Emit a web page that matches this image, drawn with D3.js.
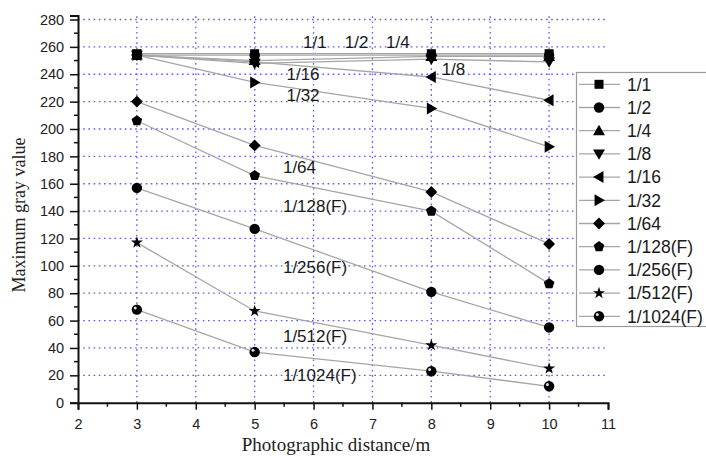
<!DOCTYPE html>
<html><head><meta charset="utf-8">
<script src="https://cdn.jsdelivr.net/npm/d3@7"></script>
<style>
html,body{margin:0;padding:0;background:#fff;}
svg{display:block;}
</style></head>
<body>
<svg id="chart" width="706" height="461"></svg>
<script>
// ---- data ----
const distances = [3, 5, 8, 10];
const seriesNames = ["1/1","1/2","1/4","1/8","1/16","1/32","1/64","1/128(F)","1/256(F)","1/512(F)","1/1024(F)"];
const s1_1    = [255, 255, 255, 255];
const s1_2    = [254, 254, 254, 254];
const s1_4    = [254, 250, 253, 253];
const s1_8    = [254, 248, 251, 249];
const s1_16   = [254, 249, 238, 221];
const s1_32   = [254, 234, 215, 187];
const s1_64   = [220, 188, 154, 116];
const s1_128F = [206, 166, 140, 87];
const s1_256F = [157, 127, 81, 55];
const s1_512F = [117, 67, 42, 25];
const s1_1024F= [68, 37, 23, 12];
const seriesValues = [s1_1, s1_2, s1_4, s1_8, s1_16, s1_32, s1_64, s1_128F, s1_256F, s1_512F, s1_1024F];
const markerTypes = ["square","circle","triUp","triDown","triLeft","triRight","diamond","pentagon","circle","star","sphere"];
const xTicks = [2,3,4,5,6,7,8,9,10,11];
const yTicks = [0,20,40,60,80,100,120,140,160,180,200,220,240,260,280];
const annotText = ["1/1","1/2","1/4","1/8","1/16","1/32","1/64","1/128(F)","1/256(F)","1/512(F)","1/1024(F)"];
const annotX = [5.82, 6.53, 7.23, 8.175, 5.54, 5.54, 5.48, 5.48, 5.48, 5.48, 5.48];
const annotY = [259.2, 259.2, 259.2, 239.4, 235.8, 220.2, 167.8, 139.6, 94.8, 44.6, 16.1];

// ---- chart ----
const svg = d3.select("#chart");
const x = d3.scaleLinear().domain([2, 11]).range([78, 608]);
const y = d3.scaleLinear().domain([0, 283]).range([402.7, 15.4]);

const gridColor = "#5a5aff";
const grid = svg.append("g");
grid.selectAll("line.h").data(yTicks.filter(v => v > 0)).join("line")
  .attr("x1", x(2)).attr("x2", x(11))
  .attr("y1", d => y(d)).attr("y2", d => y(d))
  .attr("stroke", gridColor).attr("stroke-width", 1.3).attr("stroke-dasharray", "1.6,3.6");
grid.selectAll("line.v").data(xTicks.filter(v => v > 2 && v < 11)).join("line")
  .attr("x1", d => x(d)).attr("x2", d => x(d))
  .attr("y1", y(0)).attr("y2", y(283))
  .attr("stroke", gridColor).attr("stroke-width", 1.3).attr("stroke-dasharray", "1.6,3.6");

// axes
const font = "'Liberation Sans', Arial, sans-serif";
const xAxis = d3.axisBottom(x).tickValues(xTicks).tickSize(7).tickFormat(d3.format("d"));
const gx = svg.append("g").attr("transform", `translate(0,${y(0)})`).call(xAxis);
gx.select(".domain").attr("stroke", "#111").attr("stroke-width", 2);
gx.selectAll(".tick line").attr("stroke", "#111").attr("stroke-width", 1.5);
gx.selectAll("text").attr("font-family", font).attr("font-size", 14.5).attr("fill", "#222").attr("dy", "1.1em");
const xMinor = d3.range(2.5, 11, 1);
svg.append("g").selectAll("line").data(xMinor).join("line")
  .attr("x1", d => x(d)).attr("x2", d => x(d)).attr("y1", y(0)).attr("y2", y(0) + 4)
  .attr("stroke", "#111").attr("stroke-width", 1.5);

const yAxis = d3.axisLeft(y).tickValues(yTicks).tickSize(8).tickFormat(d3.format("d"));
const gy = svg.append("g").attr("transform", `translate(${x(2)},0)`).call(yAxis);
gy.select(".domain").attr("stroke", "#111").attr("stroke-width", 2);
gy.selectAll(".tick line").attr("stroke", "#111").attr("stroke-width", 1.5);
gy.selectAll("text").attr("font-family", font).attr("font-size", 14.5).attr("fill", "#222").attr("dx", "-0.2em");
const yMinor = d3.range(10, 283, 20);
svg.append("g").selectAll("line").data(yMinor).join("line")
  .attr("x1", x(2) - 4).attr("x2", x(2)).attr("y1", d => y(d)).attr("y2", d => y(d))
  .attr("stroke", "#111").attr("stroke-width", 1.5);

// titles
svg.append("text").attr("x", 336).attr("y", 451).attr("text-anchor", "middle")
  .attr("font-family", "'Liberation Serif', 'Times New Roman', serif").attr("font-size", 19).attr("fill", "#222")
  .text("Photographic distance/m");
svg.append("text").attr("transform", "translate(25,215) rotate(-90)").attr("text-anchor", "middle")
  .attr("font-family", "'Liberation Serif', 'Times New Roman', serif").attr("font-size", 18).attr("fill", "#222")
  .text("Maximum gray value");

// marker drawing
function pentagonPath(r) {
  const pts = d3.range(5).map(i => {
    const a = -Math.PI / 2 + i * 2 * Math.PI / 5;
    return [r * Math.cos(a), r * Math.sin(a)];
  });
  return "M" + pts.map(p => p.join(",")).join("L") + "Z";
}
function drawMarker(g, type) {
  const tri = d3.symbol().type(d3.symbolTriangle).size(62)();
  switch (type) {
    case "square": g.append("rect").attr("x", -4.5).attr("y", -4.5).attr("width", 9).attr("height", 9).attr("fill", "#000"); break;
    case "circle": g.append("circle").attr("r", 5.2).attr("fill", "#000"); break;
    case "triUp": g.append("path").attr("d", tri).attr("transform", "translate(0,1)").attr("fill", "#000"); break;
    case "triDown": g.append("path").attr("d", tri).attr("transform", "translate(0,-1) rotate(180)").attr("fill", "#000"); break;
    case "triLeft": g.append("path").attr("d", tri).attr("transform", "translate(1,0) rotate(-90)").attr("fill", "#000"); break;
    case "triRight": g.append("path").attr("d", tri).attr("transform", "translate(-1,0) rotate(90)").attr("fill", "#000"); break;
    case "diamond": g.append("rect").attr("x", -4.2).attr("y", -4.2).attr("width", 8.4).attr("height", 8.4).attr("transform", "rotate(45)").attr("fill", "#000"); break;
    case "pentagon": g.append("path").attr("d", pentagonPath(5.6)).attr("fill", "#000"); break;
    case "star": g.append("path").attr("d", d3.symbol().type(d3.symbolStar).size(45)()).attr("fill", "#000"); break;
    case "sphere":
      g.append("circle").attr("r", 5.2).attr("fill", "#000");
      g.append("circle").attr("cx", -1.7).attr("cy", -1.7).attr("r", 1.5).attr("fill", "#ddd");
      break;
  }
}

// series
const line = d3.line().x((d, i) => x(distances[i])).y(d => y(d));
const plot = svg.append("g");
seriesValues.forEach((vals, si) => {
  plot.append("path").attr("d", line(vals)).attr("fill", "none").attr("stroke", "#a6a6a6").attr("stroke-width", 1.3);
});
seriesValues.forEach((vals, si) => {
  vals.forEach((v, i) => {
    const g = plot.append("g").attr("transform", `translate(${x(distances[i])},${y(v)})`);
    drawMarker(g, markerTypes[si]);
  });
});

// annotations
svg.append("g").selectAll("text").data(annotText).join("text")
  .attr("x", (d, i) => x(annotX[i])).attr("y", (d, i) => y(annotY[i]))
  .attr("font-family", font).attr("font-size", 17).attr("fill", "#1a1a1a")
  .text(d => d);

// legend
const leg = svg.append("g");
leg.append("rect").attr("x", 576.5).attr("y", 72.5).attr("width", 140).attr("height", 254)
  .attr("fill", "#fff").attr("stroke", "#9a9a9a").attr("stroke-width", 1.2);
seriesNames.forEach((name, i) => {
  const cy = 84.3 + i * 23.2;
  leg.append("line").attr("x1", 579).attr("x2", 620).attr("y1", cy).attr("y2", cy)
    .attr("stroke", "#a6a6a6").attr("stroke-width", 1.3);
  const g = leg.append("g").attr("transform", `translate(599,${cy})`);
  drawMarker(g, markerTypes[i]);
  leg.append("text").attr("x", 627).attr("y", cy).attr("dy", "0.36em")
    .attr("font-family", font).attr("font-size", 17.5).attr("fill", "#1a1a1a").text(name);
});
</script>
</body></html>
